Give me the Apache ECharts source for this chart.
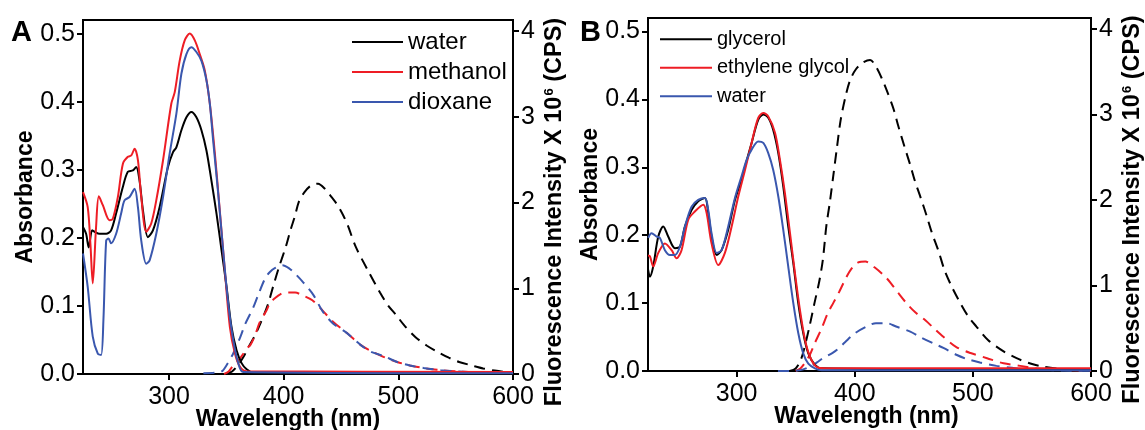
<!DOCTYPE html>
<html>
<head>
<meta charset="utf-8">
<script src="https://cdn.jsdelivr.net/npm/echarts@6/dist/echarts.min.js"></script>
<style>
  html, body { margin: 0; padding: 0; background: #fff; }
  #chart { width: 1145px; height: 430px; }
</style>
</head>
<body>
<div id="chart"></div>
<script>
// Tick positions
const wavelengthTicks = [300, 400, 500, 600];
const absorbanceTicks = [0, 0.1, 0.2, 0.3, 0.4, 0.5];
const fluorescenceTicks = [0, 1, 2, 3, 4];

// Panel A: absorbance spectra [wavelength nm, absorbance]
const absWaterA = [[225,0.216],[227.7,0.206],[230,0.186],[232.9,0.211],[235,0.209],[239.3,0.206],[245.2,0.206],[249.5,0.211],[253.9,0.236],[259.8,0.275],[264.1,0.297],[268.5,0.299],[271.4,0.304],[274.3,0.284],[277.3,0.24],[281.6,0.201],[286,0.211],[291.8,0.245],[299.1,0.304],[303.5,0.326],[306.4,0.333],[310.8,0.358],[315.2,0.377],[319.5,0.385],[323.9,0.377],[328.3,0.358],[332.7,0.328],[337,0.284],[341.4,0.236],[345.8,0.182],[350.2,0.128],[354.5,0.069],[358.9,0.035],[363.3,0.016],[367.7,0.007],[373.5,0.002],[400,0.001],[600,0.001]];
const absMethanolA = [[225,0.267],[229.1,0.245],[231.5,0.19],[233.5,0.133],[236.4,0.216],[238.8,0.261],[242.3,0.248],[248.1,0.226],[251,0.228],[255.4,0.26],[259.8,0.309],[264.1,0.319],[267.1,0.321],[270,0.331],[272.9,0.314],[275.8,0.26],[280.2,0.209],[284.5,0.221],[288.9,0.255],[294.8,0.314],[302,0.397],[305,0.414],[309.3,0.46],[313.7,0.49],[318.1,0.5],[322.5,0.49],[326.8,0.47],[331.2,0.446],[335.6,0.397],[340,0.324],[344.3,0.24],[348.7,0.152],[353.1,0.069],[357.5,0.03],[361.8,0.011],[367.7,0.004],[600,0.003]];
const absDioxaneA = [[225,0.177],[229.1,0.128],[233.5,0.055],[237.9,0.03],[240.8,0.028],[242.8,0.079],[245.2,0.196],[247.2,0.199],[249.5,0.192],[253.9,0.206],[258.3,0.236],[261.2,0.255],[265.6,0.26],[270,0.272],[272.9,0.245],[275.8,0.196],[280.2,0.162],[283.1,0.167],[288.9,0.206],[294.8,0.26],[300.6,0.324],[306.4,0.382],[310.8,0.441],[315.2,0.47],[319.5,0.48],[323.9,0.473],[328.3,0.46],[332.7,0.431],[335.6,0.397],[338.5,0.343],[342.9,0.265],[347.2,0.182],[351.6,0.104],[356,0.05],[360.4,0.016],[364.7,0.003],[600,0.001]];

// Panel A: emission spectra [wavelength nm, intensity x 10^6 CPS]
const emWaterA = [[350,0],[355,0.03],[360,0.1],[365,0.2],[370,0.33],[375,0.45],[380,0.6],[386,0.8],[391,1.03],[396,1.25],[402,1.49],[406,1.68],[410,1.85],[413,2.0],[418,2.12],[424,2.2],[430,2.22],[436,2.16],[442,2.06],[447,1.97],[452,1.85],[456,1.73],[463,1.48],[473,1.22],[484,0.95],[491,0.8],[498,0.69],[505,0.57],[515,0.43],[525,0.33],[534,0.26],[544,0.19],[553,0.14],[564,0.1],[574,0.065],[584,0.04],[592,0.025],[600,0.015]];
const emMethanolA = [[348,0],[352,0.03],[356,0.1],[360,0.15],[364,0.22],[368,0.3],[371,0.34],[375,0.45],[379,0.6],[385,0.74],[388,0.83],[392,0.88],[397,0.93],[403,0.95],[410,0.95],[416,0.92],[425,0.86],[434,0.74],[443,0.61],[455,0.48],[467,0.34],[476,0.27],[487,0.2],[499,0.14],[510,0.1],[522,0.07],[537,0.045],[552,0.03],[570,0.02],[585,0.015],[600,0.01]];
const emDioxaneA = [[330,0.01],[340,0.015],[346,0.03],[351,0.12],[356,0.24],[360,0.36],[363,0.46],[366,0.57],[370,0.68],[373,0.76],[378,0.93],[384,1.12],[388,1.19],[393,1.24],[399,1.27],[405,1.23],[410,1.17],[417,1.07],[426,0.92],[434,0.73],[443,0.59],[455,0.48],[467,0.34],[476,0.26],[487,0.21],[499,0.14],[510,0.1],[522,0.07],[537,0.045],[552,0.03],[570,0.02],[600,0.01]];

// Panel B: absorbance spectra
const absGlycerolB = [[225,0.15],[226.6,0.139],[229.4,0.154],[233.7,0.198],[237.9,0.213],[242.1,0.198],[247.8,0.181],[252,0.183],[256.3,0.213],[261.9,0.237],[267.5,0.25],[273.2,0.255],[276,0.233],[278.8,0.198],[283.1,0.171],[287.3,0.178],[292.9,0.208],[298.6,0.252],[304.2,0.282],[307.1,0.301],[312.7,0.336],[318.3,0.37],[322.6,0.378],[326.8,0.373],[331,0.355],[335.3,0.321],[339.5,0.272],[343.7,0.213],[348,0.159],[352.2,0.1],[356.4,0.056],[360.7,0.026],[366.3,0.009],[372,0.004],[600,0.002]];
const absEthyleneGlycolB = [[225,0.17],[226.6,0.169],[229.4,0.154],[233.7,0.174],[239.3,0.188],[245,0.178],[249.2,0.166],[253.4,0.178],[259.1,0.223],[264.7,0.235],[271.8,0.245],[274.6,0.233],[278.8,0.188],[284.5,0.156],[290.1,0.174],[295.8,0.213],[301.4,0.257],[307.1,0.296],[312.7,0.336],[318.3,0.373],[322.6,0.38],[326.8,0.375],[332.5,0.351],[336.7,0.311],[340.9,0.262],[345.2,0.203],[349.4,0.144],[353.6,0.09],[357.9,0.046],[362.1,0.021],[367.7,0.006],[375,0.004],[600,0.004]];
const absWaterB = [[225.2,0.196],[228,0.203],[232.3,0.198],[235.1,0.196],[239.3,0.178],[243.6,0.171],[247.8,0.171],[252,0.183],[256.3,0.213],[261.9,0.242],[267.5,0.252],[273.2,0.255],[276,0.237],[278.8,0.203],[283.1,0.174],[287.3,0.178],[292.9,0.213],[298.6,0.255],[304.2,0.287],[308.5,0.311],[312.7,0.326],[318.3,0.338],[322.6,0.336],[326.8,0.321],[331,0.296],[335.3,0.257],[339.5,0.208],[343.7,0.154],[348,0.1],[352.2,0.056],[356.4,0.026],[360.7,0.011],[366.3,0.004],[372,0.001],[600,0.001]];

// Panel B: emission spectra
const emGlycerolB = [[345,0],[350,0.03],[354,0.12],[357,0.25],[362,0.54],[366,0.8],[370,1.05],[373,1.3],[376,1.7],[379,1.98],[382,2.3],[385,2.62],[388,2.93],[392,3.2],[396,3.4],[401,3.53],[407,3.61],[413,3.64],[418,3.56],[423,3.42],[428,3.25],[433,3.06],[437,2.86],[442,2.63],[447,2.41],[451,2.22],[456,2.02],[461,1.81],[465,1.63],[471,1.4],[476,1.18],[482,0.99],[488,0.83],[496,0.64],[503,0.52],[513,0.36],[526,0.23],[537,0.15],[548,0.09],[560,0.05],[577,0.02],[594,0.006],[600,0.004]];
const emEthyleneGlycolB = [[350,0],[354,0.03],[358,0.1],[362,0.19],[366,0.32],[372,0.5],[377,0.67],[382,0.8],[387,0.93],[393,1.1],[398,1.21],[403,1.27],[409,1.28],[417,1.21],[426,1.1],[431,1.02],[437,0.91],[444,0.79],[451,0.69],[460,0.59],[467,0.5],[475,0.4],[486,0.28],[498,0.21],[512,0.15],[526,0.09],[540,0.06],[554,0.03],[574,0.012],[600,0.004]];
const emWaterB = [[335,0],[345,0],[354,0.01],[362,0.05],[368,0.1],[373,0.15],[381,0.21],[386,0.26],[392,0.34],[400,0.44],[410,0.52],[418,0.56],[427,0.56],[435,0.52],[447,0.46],[455,0.4],[467,0.32],[475,0.27],[486,0.19],[495,0.14],[506,0.1],[520,0.06],[537,0.03],[554,0.02],[577,0.005],[600,0.002]];

const BLACK = '#000000';
const RED = '#ee1d25';
const BLUE = '#3a57ae';
const FONT = '"Liberation Sans", Arial, sans-serif';
const DASH = [11, 7];

function xAxisFor(gridIndex, namePadding) {
  return {
    type: 'value', gridIndex, min: 225, max: 600,
    splitLine: { show: false },
    axisLine: { lineStyle: { color: BLACK, width: 2 } },
    axisTick: { length: 6, lineStyle: { color: BLACK, width: 2 }, customValues: wavelengthTicks },
    axisLabel: { customValues: wavelengthTicks, color: BLACK, fontSize: 25, fontFamily: FONT, margin: 11 },
    name: 'Wavelength (nm)', nameLocation: 'middle', nameGap: 34, nameMoveOverlap: false,
    nameTextStyle: { color: BLACK, fontSize: 23, fontWeight: 'bold', fontFamily: FONT, padding: namePadding }
  };
}
function absAxisFor(gridIndex) {
  return {
    type: 'value', gridIndex, min: 0, max: 0.52, position: 'left',
    splitLine: { show: false },
    axisLine: { show: true, lineStyle: { color: BLACK, width: 2 } },
    axisTick: { show: true, length: 6, lineStyle: { color: BLACK, width: 2 }, customValues: absorbanceTicks },
    axisLabel: { customValues: absorbanceTicks, color: BLACK, fontSize: 25, fontFamily: FONT, margin: 8,
      formatter: v => v.toFixed(1) },
    name: 'Absorbance', nameLocation: 'middle', nameGap: 46, nameMoveOverlap: false,
    nameTextStyle: { color: BLACK, fontSize: 23, fontWeight: 'bold', fontFamily: FONT }
  };
}
function flAxisFor(gridIndex) {
  return {
    type: 'value', gridIndex, min: 0, max: 4.13, position: 'right',
    splitLine: { show: false },
    axisLine: { show: true, lineStyle: { color: BLACK, width: 2 } },
    axisTick: { show: true, length: 6, lineStyle: { color: BLACK, width: 2 }, customValues: fluorescenceTicks },
    axisLabel: { customValues: fluorescenceTicks, color: BLACK, fontSize: 25, fontFamily: FONT, margin: 8,
      formatter: v => String(Math.round(v)) },
    name: 'Fluorescence Intensity X 10{sup|6} (CPS)', nameLocation: 'middle', nameGap: 30, nameMoveOverlap: false,
    nameTextStyle: { color: BLACK, fontSize: 23.5, fontWeight: 'bold', fontFamily: FONT, padding: [0, 30, 0, 0],
      rich: { sup: { fontSize: 13, fontWeight: 'bold', fontFamily: FONT, color: BLACK, verticalAlign: 'top', lineHeight: 23, padding: [0, 0, 10, 1] } } }
  };
}
function line(name, data, color, xi, yi, dashed) {
  return {
    type: 'line', name, data, xAxisIndex: xi, yAxisIndex: yi,
    symbol: 'none', showSymbol: false, smooth: 0.3, silent: true,
    lineStyle: { color, width: 2, type: dashed ? DASH : 'solid' },
    itemStyle: { color },
    z: dashed ? 2 : 3
  };
}

const chart = echarts.init(document.getElementById('chart'), null, { renderer: 'canvas' });
chart.setOption({
  animation: false,
  backgroundColor: '#ffffff',
  grid: [
    { left: 83, top: 20, width: 430, height: 354, show: true, borderColor: BLACK, borderWidth: 2,
      containLabel: false, outerBoundsMode: 'none' },
    { left: 648, top: 18, width: 443, height: 353, show: true, borderColor: BLACK, borderWidth: 2,
      containLabel: false, outerBoundsMode: 'none' }
  ],
  xAxis: [xAxisFor(0, [0, 20, 0, 0]), xAxisFor(1, [0, 6, 0, 0])],
  yAxis: [absAxisFor(0), flAxisFor(0), absAxisFor(1), flAxisFor(1)],
  legend: [
    {
      orient: 'vertical', left: 347, top: 25, itemWidth: 51, itemHeight: 2, itemGap: 6,
      icon: 'rect', selectedMode: false,
      textStyle: { color: BLACK, fontSize: 24, fontFamily: FONT, lineHeight: 24 },
      data: ['water', 'methanol', 'dioxane']
    },
    {
      orient: 'vertical', left: 655, top: 24, itemWidth: 52, itemHeight: 2, itemGap: 8,
      icon: 'rect', selectedMode: false,
      textStyle: { color: BLACK, fontSize: 20, fontFamily: FONT, lineHeight: 20.5 },
      formatter: name => name.split(' · ')[0],
      data: ['glycerol · B', 'ethylene glycol · B', 'water · B']
    }
  ],
  graphic: [
    { type: 'text', x: 11, y: 33, style: { text: 'A', fontSize: 29, fontWeight: 'bold', fontFamily: FONT, fill: BLACK, verticalAlign: 'middle' } },
    { type: 'text', x: 580, y: 33, style: { text: 'B', fontSize: 29, fontWeight: 'bold', fontFamily: FONT, fill: BLACK, verticalAlign: 'middle' } }
  ],
  series: [
    line('water emission', emWaterA, BLACK, 0, 1, true),
    line('methanol emission', emMethanolA, RED, 0, 1, true),
    line('dioxane emission', emDioxaneA, BLUE, 0, 1, true),
    line('water', absWaterA, BLACK, 0, 0, false),
    line('methanol', absMethanolA, RED, 0, 0, false),
    line('dioxane', absDioxaneA, BLUE, 0, 0, false),
    line('glycerol emission · B', emGlycerolB, BLACK, 1, 3, true),
    line('ethylene glycol emission · B', emEthyleneGlycolB, RED, 1, 3, true),
    line('water emission · B', emWaterB, BLUE, 1, 3, true),
    line('glycerol · B', absGlycerolB, BLACK, 1, 2, false),
    line('ethylene glycol · B', absEthyleneGlycolB, RED, 1, 2, false),
    line('water · B', absWaterB, BLUE, 1, 2, false)
  ]
});
</script>
</body>
</html>
